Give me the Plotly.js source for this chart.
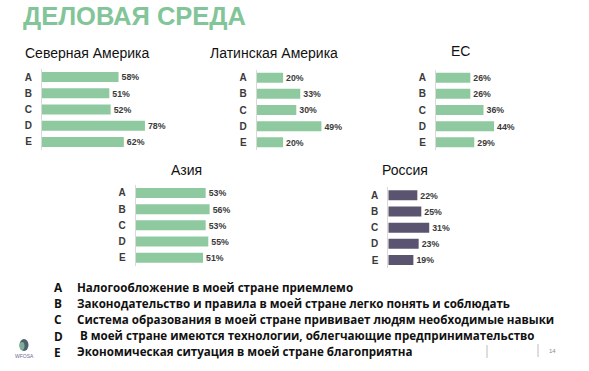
<!DOCTYPE html>
<html>
<head>
<meta charset="utf-8">
<script src="https://cdn.plot.ly/plotly-3.0.1.min.js"></script>
<style>
html,body{margin:0;padding:0;background:#fff;}
#chart{width:589px;height:371px;}
</style>
</head>
<body>
<div id="chart"></div>
<script>
// ---- data ----
const categories = ['A', 'B', 'C', 'D', 'E'];
const regionNames = ['Северная Америка', 'Латинская Америка', 'ЕС', 'Азия', 'Россия'];
const northAmerica = [58, 51, 52, 78, 62];
const latinAmerica = [20, 33, 30, 49, 20];
const eu = [26, 26, 36, 44, 29];
const asia = [53, 56, 53, 55, 51];
const russia = [22, 25, 31, 23, 19];
const pageTitle = 'ДЕЛОВАЯ СРЕДА';
const legendTexts = [
  'Налогообложение в моей стране приемлемо',
  'Законодательство и правила в моей стране легко понять и соблюдать',
  'Система образования в моей стране прививает людям необходимые навыки',
  'В моей стране имеются технологии, облегчающие предпринимательство',
  'Экономическая ситуация в моей стране благоприятна'
];
const pageNumber = '14';
const logoText = 'WFOSA';

// ---- layout geometry (pixels) ----
const W = 589, H = 371;
const PXPERPCT = 1.32;
const px = x => x / W;
const py = y => 1 - y / H;
const GREEN = '#8fc9a0';
const PURPLE = '#5a5470';
const panels = [
  {vals: northAmerica, color: GREEN, x0: 42, w: 140, top: 68.9, bot: 150.1, title: {x: 23, y: 53, anchor: 'left'}},
  {vals: latinAmerica, color: GREEN, x0: 256.7, w: 120, top: 69.6, bot: 150.4, title: {x: 208, y: 53, anchor: 'left'}},
  {vals: eu, color: GREEN, x0: 436, w: 120, top: 69.6, bot: 150.4, title: {x: 460, y: 51, anchor: 'center'}},
  {vals: asia, color: GREEN, x0: 135.7, w: 130, top: 184.9, bot: 265.8, title: {x: 186, y: 170, anchor: 'center'}},
  {vals: russia, color: PURPLE, x0: 388.3, w: 110, top: 187.2, bot: 268.1, title: {x: 405, y: 170, anchor: 'center'}}
];

const traces = [];
const layout = {
  width: W, height: H,
  margin: {l: 0, r: 0, t: 0, b: 0},
  paper_bgcolor: '#ffffff', plot_bgcolor: 'rgba(0,0,0,0)',
  showlegend: false,
  bargap: 0.38,
  font: {family: 'Liberation Sans, Arial, sans-serif'},
  annotations: [],
  shapes: []
};

panels.forEach((p, i) => {
  const sfx = i === 0 ? '' : String(i + 1);
  traces.push({
    type: 'bar', orientation: 'h',
    x: p.vals, y: categories,
    xaxis: 'x' + sfx, yaxis: 'y' + sfx,
    marker: {color: p.color, line: {width: 0}},
    text: p.vals.map(v => v + '%'),
    textposition: 'outside',
    cliponaxis: false,
    textfont: {family: 'Liberation Sans, Arial, sans-serif', size: 10.5, color: '#3a3a3a', weight: 'bold'},
    hoverinfo: 'skip'
  });
  layout['xaxis' + sfx] = {
    domain: [px(p.x0), px(p.x0 + p.w)],
    range: [0, p.w / PXPERPCT],
    visible: false, fixedrange: true,
    anchor: 'y' + sfx
  };
  layout['yaxis' + sfx] = {
    domain: [py(p.bot), py(p.top)],
    type: 'category',
    categoryorder: 'array', categoryarray: categories,
    autorange: 'reversed',
    showgrid: false, zeroline: false,
    showline: true, linecolor: '#d9d9d9', linewidth: 1,
    ticks: '', ticklabelstandoff: 7,
    tickfont: {family: 'Liberation Sans, Arial, sans-serif', size: 10, color: '#3a3a3a', weight: 'bold'},
    anchor: 'x' + sfx, fixedrange: true
  };
  layout.annotations.push({
    xref: 'paper', yref: 'paper',
    x: px(p.title.x), y: py(p.title.y),
    xanchor: p.title.anchor, yanchor: 'middle',
    text: regionNames[i], showarrow: false,
    font: {family: 'Liberation Sans, Arial, sans-serif', size: 14, color: '#111111'}
  });
});

// page title
layout.annotations.push({
  xref: 'paper', yref: 'paper', x: px(20.5), y: py(16.5),
  xanchor: 'left', yanchor: 'middle', showarrow: false,
  text: pageTitle,
  font: {family: 'Liberation Sans, Arial, sans-serif', size: 25.5, color: '#82c598', weight: 'bold'}
});

// legend
legendTexts.forEach((t, i) => {
  const y = 287 + i * 16.2;
  layout.annotations.push({
    xref: 'paper', yref: 'paper', x: px(52), y: py(y),
    xanchor: 'left', yanchor: 'middle', showarrow: false,
    text: categories[i],
    font: {family: 'Open Sans, sans-serif', size: 11.8, color: '#111111', weight: 'bold'}
  });
  layout.annotations.push({
    xref: 'paper', yref: 'paper', x: px(i === 3 ? 78 : 74.5), y: py(y),
    xanchor: 'left', yanchor: 'middle', showarrow: false,
    text: t,
    font: {family: 'Open Sans, sans-serif', size: 11.6, color: '#111111', weight: 'bold'}
  });
});

// footer: page number + divider lines
layout.annotations.push({
  xref: 'paper', yref: 'paper', x: px(552), y: py(351),
  xanchor: 'center', yanchor: 'middle', showarrow: false,
  text: pageNumber,
  font: {family: 'Liberation Sans, Arial, sans-serif', size: 6, color: '#888888'}
});
[[487, 345, 358], [538, 344, 357]].forEach(l => {
  layout.shapes.push({type: 'line', xref: 'paper', yref: 'paper',
    x0: px(l[0]), x1: px(l[0]), y0: py(l[1]), y1: py(l[2]),
    line: {color: '#bdbdbd', width: 1}});
});

// logo
layout.shapes.push({type: 'circle', xref: 'paper', yref: 'paper',
  x0: px(19.5), x1: px(28.5), y0: py(351), y1: py(339),
  fillcolor: '#4e5f6e', line: {width: 0}});
layout.shapes.push({type: 'circle', xref: 'paper', yref: 'paper',
  x0: px(19.5), x1: px(24.5), y0: py(350), y1: py(342),
  fillcolor: '#7fae98', line: {width: 0}});
layout.annotations.push({
  xref: 'paper', yref: 'paper', x: px(24), y: py(356),
  xanchor: 'center', yanchor: 'middle', showarrow: false,
  text: logoText,
  font: {family: 'Liberation Sans, Arial, sans-serif', size: 5, color: '#6a6a8a'}
});

Plotly.newPlot('chart', traces, layout, {displayModeBar: false, staticPlot: true});
</script>
</body>
</html>
